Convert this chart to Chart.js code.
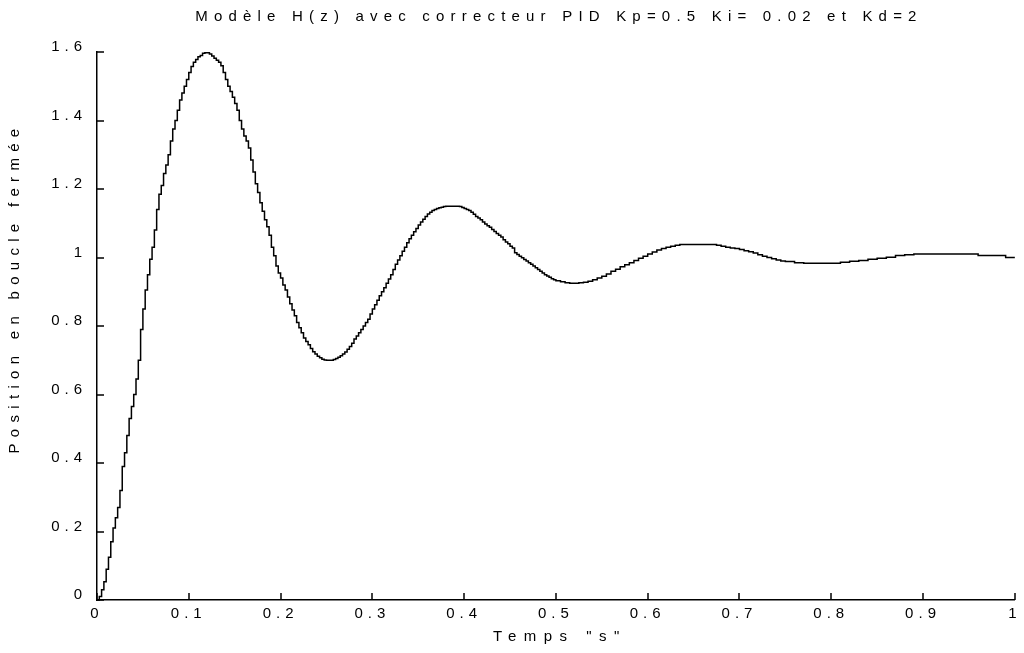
<!DOCTYPE html>
<html>
<head>
<meta charset="utf-8">
<script src="https://cdn.jsdelivr.net/npm/chart.js@4.4.0/dist/chart.umd.min.js"></script>
<style>
  html, body { margin: 0; padding: 0; background: #fff; }
  #wrap { width: 1024px; height: 653px; }
</style>
</head>
<body>
<div id="wrap"><canvas id="chart" width="1024" height="653"></canvas></div>
<script>
const titleText = 'Modèle H(z) avec correcteur PID Kp=0.5 Ki= 0.02 et Kd=2';
const xLabel = 'Temps "s"';
const yLabel = 'Position en boucle fermée';

// sampled step response: time (s) and closed-loop position
const time = [
  0, 0.0025, 0.005, 0.0075, 0.01, 0.0125, 0.015, 0.0175, 0.02, 0.0225,
  0.025, 0.0275, 0.03, 0.0325, 0.035, 0.0375, 0.04, 0.0425, 0.045, 0.0475,
  0.05, 0.0525, 0.055, 0.0575, 0.06, 0.0625, 0.065, 0.0675, 0.07, 0.0725,
  0.075, 0.0775, 0.08, 0.0825, 0.085, 0.0875, 0.09, 0.0925, 0.095, 0.0975,
  0.1, 0.1025, 0.105, 0.1075, 0.11, 0.1125, 0.115, 0.1175, 0.12, 0.1225,
  0.125, 0.1275, 0.13, 0.1325, 0.135, 0.1375, 0.14, 0.1425, 0.145, 0.1475,
  0.15, 0.1525, 0.155, 0.1575, 0.16, 0.1625, 0.165, 0.1675, 0.17, 0.1725,
  0.175, 0.1775, 0.18, 0.1825, 0.185, 0.1875, 0.19, 0.1925, 0.195, 0.1975,
  0.2, 0.2025, 0.205, 0.2075, 0.21, 0.2125, 0.215, 0.2175, 0.22, 0.2225,
  0.225, 0.2275, 0.23, 0.2325, 0.235, 0.2375, 0.24, 0.2425, 0.245, 0.2475,
  0.25, 0.2525, 0.255, 0.2575, 0.26, 0.2625, 0.265, 0.2675, 0.27, 0.2725,
  0.275, 0.2775, 0.28, 0.2825, 0.285, 0.2875, 0.29, 0.2925, 0.295, 0.2975,
  0.3, 0.3025, 0.305, 0.3075, 0.31, 0.3125, 0.315, 0.3175, 0.32, 0.3225,
  0.325, 0.3275, 0.33, 0.3325, 0.335, 0.3375, 0.34, 0.3425, 0.345, 0.3475,
  0.35, 0.3525, 0.355, 0.3575, 0.36, 0.3625, 0.365, 0.3675, 0.37, 0.3725,
  0.375, 0.3775, 0.38, 0.3825, 0.385, 0.3875, 0.39, 0.3925, 0.395, 0.3975,
  0.4, 0.4025, 0.405, 0.4075, 0.41, 0.4125, 0.415, 0.4175, 0.42, 0.4225,
  0.425, 0.4275, 0.43, 0.4325, 0.435, 0.4375, 0.44, 0.4425, 0.445, 0.4475,
  0.45, 0.4525, 0.455, 0.4575, 0.46, 0.4625, 0.465, 0.4675, 0.47, 0.4725,
  0.475, 0.4775, 0.48, 0.4825, 0.485, 0.4875, 0.49, 0.4925, 0.495, 0.4975,
  0.5, 0.505, 0.51, 0.515, 0.52, 0.525, 0.53, 0.535, 0.54, 0.545,
  0.55, 0.555, 0.56, 0.565, 0.57, 0.575, 0.58, 0.585, 0.59, 0.595,
  0.6, 0.605, 0.61, 0.615, 0.62, 0.625, 0.63, 0.635, 0.64, 0.645,
  0.65, 0.655, 0.66, 0.665, 0.67, 0.675, 0.68, 0.685, 0.69, 0.695,
  0.7, 0.705, 0.71, 0.715, 0.72, 0.725, 0.73, 0.735, 0.74, 0.745,
  0.75, 0.76, 0.77, 0.78, 0.79, 0.8, 0.81, 0.82, 0.83, 0.84,
  0.85, 0.86, 0.87, 0.88, 0.89, 0.9, 0.91, 0.92, 0.93, 0.94,
  0.95, 0.96, 0.97, 0.98, 0.99, 1
];
const position = [
  0, 0.01, 0.03, 0.053, 0.09, 0.125, 0.17, 0.21, 0.24, 0.27,
  0.32, 0.39, 0.43, 0.48, 0.53, 0.565, 0.60, 0.645, 0.70, 0.79,
  0.85, 0.905, 0.95, 0.995, 1.03, 1.08, 1.14, 1.185, 1.21, 1.245,
  1.27, 1.30, 1.34, 1.375, 1.40, 1.43, 1.46, 1.48, 1.50, 1.52,
  1.54, 1.558, 1.57, 1.578, 1.586, 1.59, 1.596, 1.598, 1.598, 1.594,
  1.588, 1.582, 1.576, 1.57, 1.56, 1.54, 1.52, 1.50, 1.485, 1.468,
  1.45, 1.43, 1.40, 1.375, 1.355, 1.34, 1.32, 1.285, 1.25, 1.215,
  1.19, 1.16, 1.135, 1.11, 1.09, 1.065, 1.03, 1.005, 0.975, 0.955,
  0.94, 0.92, 0.905, 0.885, 0.865, 0.847, 0.83, 0.81, 0.795, 0.78,
  0.765, 0.755, 0.745, 0.734, 0.725, 0.718, 0.712, 0.707, 0.703, 0.701,
  0.70, 0.70, 0.70, 0.702, 0.705, 0.709, 0.713, 0.718, 0.724, 0.732,
  0.74, 0.75, 0.762, 0.771, 0.78, 0.79, 0.80, 0.81, 0.82, 0.835,
  0.85, 0.862, 0.875, 0.888, 0.90, 0.912, 0.925, 0.937, 0.95, 0.965,
  0.98, 0.993, 1.005, 1.018, 1.03, 1.043, 1.055, 1.065, 1.075, 1.085,
  1.095, 1.104, 1.112, 1.12, 1.127, 1.132, 1.137, 1.14, 1.143, 1.145,
  1.147, 1.149, 1.15, 1.15, 1.15, 1.15, 1.15, 1.15, 1.149, 1.146,
  1.143, 1.14, 1.137, 1.132, 1.126, 1.12, 1.115, 1.11, 1.104, 1.098,
  1.093, 1.088, 1.082, 1.076, 1.07, 1.065, 1.06, 1.052, 1.045, 1.04,
  1.033, 1.028, 1.014, 1.009, 1.004, 0.999, 0.994, 0.99, 0.985, 0.98,
  0.975, 0.97, 0.965, 0.96, 0.955, 0.95, 0.946, 0.942, 0.938, 0.935,
  0.932, 0.929, 0.926, 0.925, 0.925, 0.926, 0.928, 0.931, 0.935, 0.94,
  0.945, 0.952, 0.96, 0.966, 0.973, 0.979, 0.985, 0.991, 0.998, 1.004,
  1.01, 1.016, 1.022, 1.026, 1.03, 1.033, 1.036, 1.038, 1.038, 1.038,
  1.038, 1.038, 1.038, 1.038, 1.038, 1.036, 1.033, 1.03, 1.028, 1.026,
  1.023, 1.02, 1.017, 1.013, 1.008, 1.004, 1.0, 0.996, 0.993, 0.99,
  0.988, 0.985, 0.983, 0.983, 0.983, 0.983, 0.986, 0.989, 0.991, 0.995,
  0.998, 1.001, 1.006, 1.008, 1.01, 1.01, 1.01, 1.01, 1.01, 1.01,
  1.01, 1.006, 1.006, 1.006, 1.0, 1.0
];

const xTicks = [0, 0.1, 0.2, 0.3, 0.4, 0.5, 0.6, 0.7, 0.8, 0.9, 1];
const yTicks = [0, 0.2, 0.4, 0.6, 0.8, 1, 1.2, 1.4, 1.6];

const FONT = '"Liberation Sans", Arial, sans-serif';

Chart.defaults.font.family = FONT;
Chart.defaults.font.size = 15;
Chart.defaults.color = '#000';

// spaced-out lettering, inward tick marks and the three titles
const matlabLook = {
  id: 'matlabLook',
  beforeDraw(chart) {
    chart.ctx.letterSpacing = '5px';
  },
  afterDraw(chart) {
    const { ctx, chartArea: a, scales: { x, y } } = chart;
    ctx.save();
    ctx.strokeStyle = '#000';
    ctx.lineWidth = 1.5;
    ctx.beginPath();
    xTicks.forEach(v => {
      const px = Math.round(x.getPixelForValue(v));
      ctx.moveTo(px, a.bottom);
      ctx.lineTo(px, a.bottom - 7);
    });
    yTicks.forEach(v => {
      const py = Math.round(y.getPixelForValue(v));
      ctx.moveTo(a.left, py);
      ctx.lineTo(a.left + 7, py);
    });
    ctx.stroke();

    ctx.fillStyle = '#000';
    ctx.font = '15px ' + FONT;
    ctx.textAlign = 'center';
    ctx.textBaseline = 'middle';
    const cx = (a.left + a.right) / 2;
    ctx.letterSpacing = '6.2px';
    ctx.fillText(titleText, cx + 3, 17);
    ctx.letterSpacing = '7.5px';
    ctx.fillText(xLabel, cx + 4, 637);
    ctx.letterSpacing = '6.3px';
    ctx.translate(15, 288);
    ctx.rotate(-Math.PI / 2);
    ctx.fillText(yLabel, 0, 0);
    ctx.restore();
  }
};

new Chart(document.getElementById('chart'), {
  type: 'line',
  data: {
    datasets: [{
      data: time.map((t, i) => ({ x: t, y: position[i] })),
      borderColor: '#000',
      borderWidth: 1.5,
      pointRadius: 0,
      stepped: true,
      fill: false,
      clip: false
    }]
  },
  options: {
    responsive: false,
    animation: false,
    events: [],
    layout: { padding: { left: 0, top: 52, right: 4, bottom: 0 } },
    plugins: { legend: { display: false }, title: { display: false }, tooltip: { enabled: false } },
    scales: {
      x: {
        type: 'linear',
        min: 0,
        max: 1,
        afterBuildTicks: s => { s.ticks = xTicks.map(v => ({ value: v })); },
        afterFit: s => { s.height = 53; },
        grid: { display: false, drawTicks: false },
        border: { display: true, color: '#000', width: 1.5 },
        ticks: { padding: 5, maxRotation: 0, autoSkip: false, callback: v => String(v) }
      },
      y: {
        type: 'linear',
        min: 0,
        max: 1.6,
        afterBuildTicks: s => { s.ticks = yTicks.map(v => ({ value: v })); },
        afterFit: s => { s.width = 97; },
        grid: { display: false, drawTicks: false },
        border: { display: true, color: '#000', width: 1.5 },
        ticks: { padding: 10, labelOffset: -5, autoSkip: false, callback: v => String(v) }
      }
    }
  },
  plugins: [matlabLook]
});
</script>
</body>
</html>
